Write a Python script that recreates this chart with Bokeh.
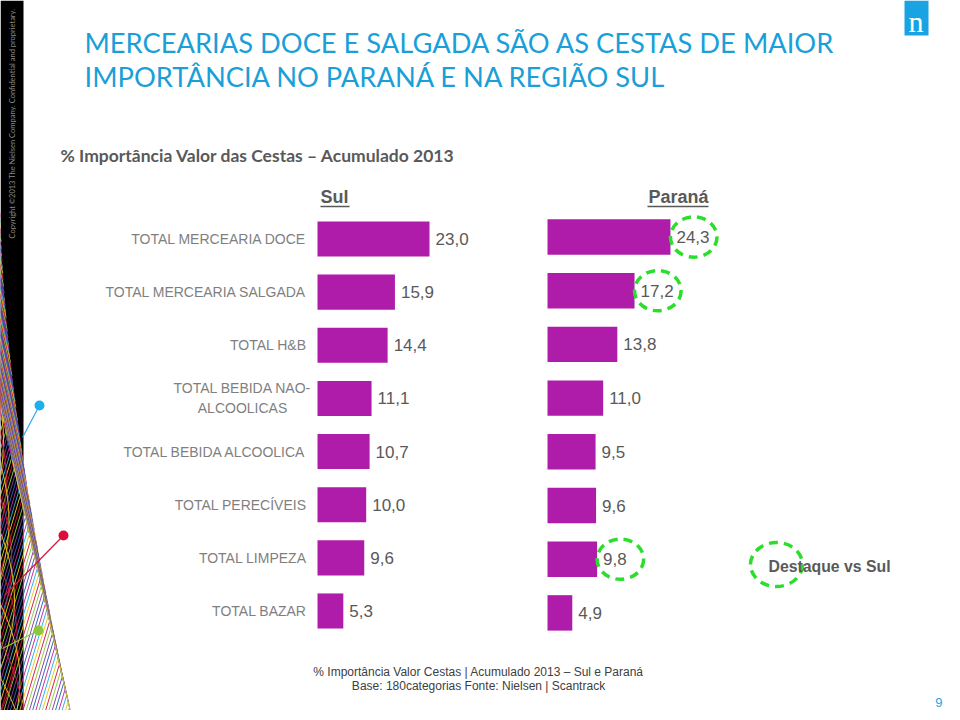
import numpy as np
from bokeh.plotting import figure
from bokeh.models import Range1d, ColumnDataSource
from bokeh.core.properties import value
from bokeh.embed import file_html
from bokeh.resources import INLINE

# ---------------- data ----------------
categories = ["TOTAL MERCEARIA DOCE", "TOTAL MERCEARIA SALGADA", "TOTAL H&B",
              "TOTAL BEBIDA NAO-\nALCOOLICAS", "TOTAL BEBIDA ALCOOLICA",
              "TOTAL PERECÍVEIS", "TOTAL LIMPEZA", "TOTAL BAZAR"]
sul = [23.0, 15.9, 14.4, 11.1, 10.7, 10.0, 9.6, 5.3]
parana = [24.3, 17.2, 13.8, 11.0, 9.5, 9.6, 9.8, 4.9]
panel_titles = ["Sul", "Paraná"]
title_lines = ["MERCEARIAS DOCE E SALGADA SÃO AS CESTAS DE MAIOR",
               "IMPORTÂNCIA NO PARANÁ E NA REGIÃO SUL"]
subtitle = "% Importância Valor das Cestas – Acumulado 2013"
legend_text = "Destaque vs Sul"
footer_lines = ["% Importância Valor Cestas | Acumulado 2013 – Sul e Paraná",
                "Base: 180categorias Fonte: Nielsen | Scantrack"]
copyright_text = "Copyright ©2013 The Nielsen Company. Confidential and proprietary."
page_number = "9"

# ---------------- styles ----------------
BAR = "#B01CAA"
BLUE = "#1A9FD9"
GREEN = "#2BDE2B"
DARK = "#595959"
LIGHT = "#7F7F7F"
ARIAL = value("Liberation Sans")
CAL = value("Lato")

W, H = 950, 710
X0, Y0 = 0, 0


def xrange_for(px0, k):
    start = -(px0 - X0) / k
    return Range1d(start, start + W / k)


def yrange_for(px0, k):
    end = -(px0 - Y0) / k
    return Range1d(end + H / k, end)


p = figure(width=W, height=H, x_range=Range1d(X0, X0 + W), y_range=Range1d(Y0 + H, Y0),
           output_backend="svg", toolbar_location=None, min_border=0,
           x_axis_location=None, y_axis_location=None)
p.grid.visible = False
p.outline_line_color = None
p.background_fill_color = "white"
p.border_fill_color = "white"

p.extra_x_ranges = {"sul": xrange_for(317, 4.87), "par": xrange_for(547, 5.06)}
p.extra_y_ranges = {"sul_y": yrange_for(238.5, 53.14), "par_y": yrange_for(236.5, 53.7)}

idx = list(range(len(categories)))
fmt = lambda v: f"{v:.1f}".replace(".", ",")
multi = ["\n" in c for c in categories]
src = ColumnDataSource(dict(idx=idx, cat=categories, sul=sul, parana=parana,
                            sul_lbl=[fmt(v) for v in sul],
                            par_lbl=[fmt(v) for v in parana],
                            align=["center" if m else "right" for m in multi],
                            xoff=[-75 if m else -11 for m in multi]))

# ---------------- left decoration ----------------
p.quad(left=0, right=23, top=0, bottom=720, fill_color="black", line_color=None)
s = np.linspace(0, 1, 80)
bx = 72 * s ** 1.6
by = 215 + 505 * s
cols = ["#C0289C", "#29ABE2", "#E8C520", "#D4163C", "#8DC63F", "#7B3FA0", "#2F5FB0"]
xs, ys, cs = [], [], []
for i in range(len(s)):
    xs.append([bx[i], bx[i] - 60]); ys.append([by[i], by[i] - 260]); cs.append(cols[i % len(cols)])
    xs.append([bx[i], bx[i] - 60]); ys.append([by[i], by[i] + 200]); cs.append(cols[(i + 3) % len(cols)])
for j in range(12):
    t = np.linspace(0, 1, 30)
    cx = -30 + 55 * np.sin(np.pi * t) * (0.5 + 0.05 * j)
    cy = 230 + 40 * j + 260 * t
    xs.append(list(cx)); ys.append(list(cy)); cs.append("#E8C520" if j % 2 == 0 else "#D4163C")
p.multi_line(xs=xs, ys=ys, line_color=cs, line_width=1.0, line_alpha=0.95)
p.segment(x0=[39, 63, 38], y0=[405, 535, 630], x1=[22, 4, 2], y1=[437, 595, 648],
          line_color=["#29ABE2", "#D4163C", "#8DC63F"], line_width=1.2)
p.scatter(x=[39, 63, 38], y=[405, 535, 630], size=10,
          fill_color=["#1EB0EE", "#D8103A", "#8DC63F"], line_color=None)
p.text(x=[12], y=[238], text=[copyright_text], angle=np.pi / 2, text_align="left",
       text_baseline="middle", text_font=CAL, text_font_size="7.5px", text_color="#8A8A8A")

# ---------------- logo ----------------
p.quad(left=904, right=928, top=0, bottom=35, fill_color="#1AA3E3", line_color=None)
p.text(x=[915.5], y=[21], text=["n"], text_align="center", text_baseline="middle",
       text_font=value("Liberation Serif"), text_font_size="30px", text_color="white")

# ---------------- titles ----------------
p.text(x=[84, 84], y=[42, 76], text=title_lines, text_align="left", text_baseline="middle",
       text_font=CAL, text_font_size="27.3px", text_color=BLUE)
p.text(x=[60], y=[155], text=[subtitle], text_align="left", text_baseline="middle",
       text_font=CAL, text_font_size="17.5px", text_font_style="bold", text_color=DARK)

# panel headers
p.text(x=[320, 708], y=[196, 196], text=panel_titles, text_align=["left", "right"],
       text_baseline="middle", text_font=ARIAL, text_font_size="18px",
       text_font_style="bold", text_color=DARK)
p.segment(x0=[320, 647], y0=[206, 206], x1=[349, 708], y1=[206, 206],
          line_color=DARK, line_width=1.5)

# ---------------- bars ----------------
p.hbar(y="idx", left=0, right="sul", height=0.66, source=src, fill_color=BAR, line_color=None,
       x_range_name="sul", y_range_name="sul_y")
p.hbar(y="idx", left=0, right="parana", height=0.66, source=src, fill_color=BAR, line_color=None,
       x_range_name="par", y_range_name="par_y")
p.text(x="sul", y="idx", text="sul_lbl", source=src, x_offset=6, text_baseline="middle",
       text_font=ARIAL, text_font_size="17px", text_color=DARK,
       x_range_name="sul", y_range_name="sul_y")
p.text(x="parana", y="idx", text="par_lbl", source=src, x_offset=6, text_baseline="middle",
       text_font=ARIAL, text_font_size="17px", text_color=DARK,
       x_range_name="par", y_range_name="par_y")
p.text(x=0, y="idx", text="cat", source=src, x_offset="xoff", text_align="align",
       text_baseline="middle", text_font=ARIAL, text_font_size="14px", text_color=LIGHT,
       text_line_height=1.25, x_range_name="sul", y_range_name="sul_y")

# highlight circles where Paraná > Sul
hl = [i for i in idx if parana[i] > sul[i]]
hsrc = ColumnDataSource(dict(x=[parana[i] + 4.6 for i in hl], y=hl))
p.ellipse(x="x", y="y", width=9.2, height=0.75, source=hsrc, fill_color=None,
          line_color=GREEN, line_width=3.5, line_dash="9 6",
          x_range_name="par", y_range_name="par_y")

# legend
p.ellipse(x=[776], y=[564], width=52, height=44, fill_color=None, line_color=GREEN,
          line_width=3.5, line_dash="9 6")
p.text(x=[768], y=[566], text=[legend_text], text_align="left", text_baseline="middle",
       text_font=ARIAL, text_font_size="15.8px", text_font_style="bold", text_color=DARK)

# ---------------- footer ----------------
p.text(x=[478, 478], y=[671, 685], text=footer_lines, text_align="center",
       text_baseline="middle", text_font=ARIAL, text_font_size="12px", text_color="#404040")
p.text(x=[942], y=[702], text=[page_number], text_align="right", text_baseline="middle",
       text_font=ARIAL, text_font_size="13px", text_color="#2AA5DA")

open("out.html", "w").write(file_html(p, INLINE))
